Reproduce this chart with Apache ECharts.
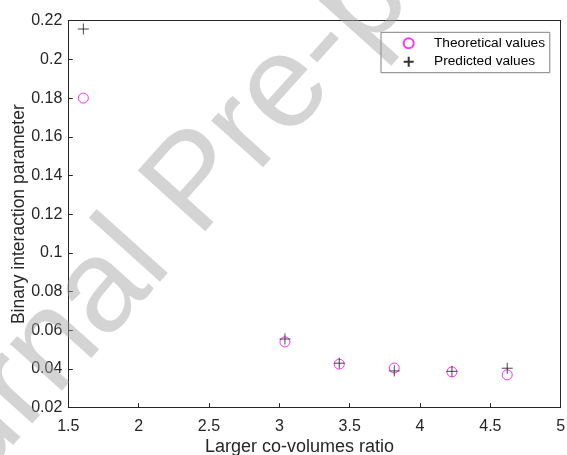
<!DOCTYPE html>
<html>
<head>
<meta charset="utf-8">
<script src="https://cdn.jsdelivr.net/npm/echarts@6/dist/echarts.min.js"></script>
<style>
html,body{margin:0;padding:0;background:#fff;}
#c{width:567px;height:455px;}
</style>
</head>
<body>
<div id="c"></div>
<script>
const ratios = [1.607, 3.04, 3.426, 3.817, 4.227, 4.62];
const theoretical = [0.18, 0.054, 0.0425, 0.0405, 0.0385, 0.037];
const predicted = [0.2157, 0.0555, 0.043, 0.039, 0.0388, 0.0404];
const seriesNames = ['Theoretical values', 'Predicted values'];
const xTitle = 'Larger co-volumes ratio';
const yTitle = 'Binary interaction parameter';
const watermark = 'Journal Pre-proof';

const axisColor = '#262626';
const font = 'Liberation Sans, Arial, Helvetica, sans-serif';
const fmt = v => String(parseFloat(v.toFixed(3)));

const chart = echarts.init(document.getElementById('c'), null, {renderer: 'canvas'});
chart.setOption({
  animation: false,
  backgroundColor: '#fff',
  grid: {left: 68.3, right: 6.3, top: 20.7, bottom: 47.3, containLabel: false, outerBoundsMode: 'none'},
  xAxis: [{
    type: 'value', min: 1.5, max: 5, interval: 0.5, position: 'bottom',
    name: xTitle, nameLocation: 'middle', nameGap: 30, nameMoveOverlap: false,
    nameTextStyle: {color: axisColor, fontSize: 18, fontFamily: font, padding: [0, 30, 0, 0]},
    axisLine: {show: true, onZero: false, lineStyle: {color: axisColor, width: 1}},
    axisTick: {show: true, inside: true, length: 4.5, lineStyle: {color: axisColor}},
    axisLabel: {color: axisColor, fontSize: 16, fontFamily: font, margin: 11, formatter: fmt},
    splitLine: {show: false}
  }, {
    type: 'value', min: 1.5, max: 5, interval: 0.5, position: 'top',
    axisLine: {show: true, onZero: false, lineStyle: {color: axisColor, width: 1}},
    axisTick: {show: false}, axisLabel: {show: false}, splitLine: {show: false}
  }],
  yAxis: [{
    type: 'value', min: 0.02, max: 0.22, interval: 0.02, position: 'left',
    name: yTitle, nameLocation: 'middle', nameGap: 40, nameMoveOverlap: false,
    nameTextStyle: {color: axisColor, fontSize: 17.5, fontFamily: font},
    axisLine: {show: true, onZero: false, lineStyle: {color: axisColor, width: 1}},
    axisTick: {show: true, inside: true, length: 4.5, lineStyle: {color: axisColor}},
    axisLabel: {color: axisColor, fontSize: 16, fontFamily: font, margin: 6, formatter: fmt},
    splitLine: {show: false}
  }, {
    type: 'value', min: 0.02, max: 0.22, interval: 0.02, position: 'right',
    axisLine: {show: true, onZero: false, lineStyle: {color: axisColor, width: 1}},
    axisTick: {show: false}, axisLabel: {show: false}, splitLine: {show: false}
  }],
  legend: {
    left: 381, top: 32.3, orient: 'vertical',
    data: seriesNames,
    itemWidth: 10, itemHeight: 10, itemGap: 2.4,
    padding: [3, 4.7, 3, 21.7],
    backgroundColor: '#fff', borderColor: '#808080', borderWidth: 1, borderRadius: 0,
    textStyle: {color: '#000', fontSize: 13.7, fontFamily: font, lineHeight: 16, padding: [0, 0, 0, 15.3]},
    symbolKeepAspect: true
  },
  series: [{
    name: seriesNames[0], type: 'scatter',
    data: ratios.map((x, i) => [x, theoretical[i]]),
    symbol: 'circle', symbolSize: 10,
    itemStyle: {color: 'rgba(0,0,0,0)', borderColor: '#ff00ff', borderWidth: 1},
    z: 3
  }, {
    name: seriesNames[1], type: 'scatter',
    data: ratios.map((x, i) => [x, predicted[i]]),
    symbol: 'path://M0,5L10,5M5,0L5,10', symbolSize: 11, symbolKeepAspect: true,
    itemStyle: {color: 'rgba(0,0,0,0)', borderColor: '#000', borderWidth: 0.9},
    z: 4
  }],
  graphic: [{
    type: 'text', x: 198, y: 185, rotation: 48 * Math.PI / 180, z: 100, silent: true,
    style: {text: watermark, fontSize: 132, fontFamily: font, fill: 'rgba(160,160,160,0.45)',
      align: 'center', verticalAlign: 'middle'}
  }]
});
</script>
</body>
</html>
